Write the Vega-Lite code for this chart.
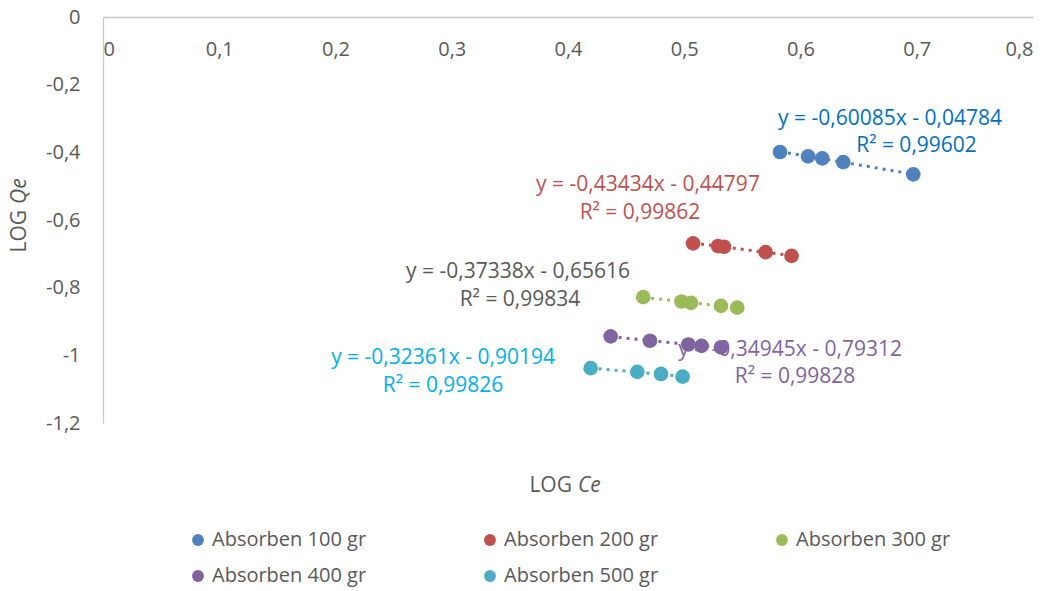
{
  "$schema": "https://vega.github.io/schema/vega-lite/v6.json",
  "width": 930,
  "height": 406,
  "autosize": "none",
  "padding": {"left": 103, "top": 17, "right": 20, "bottom": 168},
  "background": "white",
  "config": {
    "view": {"stroke": null},
    "font": "Open Sans",
    "axis": {"labelFont": "Open Sans", "labelColor": "#595959", "labelFontSize": 20, "domainColor": "#C8C8C8", "domainWidth": 1.3, "ticks": false, "tickSize": 0, "grid": false},
    "legend": {"labelFont": "Open Sans", "labelColor": "#595959", "labelFontSize": 20}
  },
  "resolve": {"scale": {"color": "independent"}, "legend": {"color": "independent"}},
  "datasets": {
    "points": [
      {"series": "Absorben 100 gr", "logCe": 0.5824, "logQe": -0.399},
      {"series": "Absorben 100 gr", "logCe": 0.6065, "logQe": -0.412},
      {"series": "Absorben 100 gr", "logCe": 0.6187, "logQe": -0.418},
      {"series": "Absorben 100 gr", "logCe": 0.6368, "logQe": -0.429},
      {"series": "Absorben 100 gr", "logCe": 0.6970, "logQe": -0.465},
      {"series": "Absorben 200 gr", "logCe": 0.5076, "logQe": -0.669},
      {"series": "Absorben 200 gr", "logCe": 0.5291, "logQe": -0.677},
      {"series": "Absorben 200 gr", "logCe": 0.5342, "logQe": -0.679},
      {"series": "Absorben 200 gr", "logCe": 0.5700, "logQe": -0.695},
      {"series": "Absorben 200 gr", "logCe": 0.5923, "logQe": -0.706},
      {"series": "Absorben 300 gr", "logCe": 0.4647, "logQe": -0.828},
      {"series": "Absorben 300 gr", "logCe": 0.4976, "logQe": -0.841},
      {"series": "Absorben 300 gr", "logCe": 0.5058, "logQe": -0.845},
      {"series": "Absorben 300 gr", "logCe": 0.5316, "logQe": -0.854},
      {"series": "Absorben 300 gr", "logCe": 0.5456, "logQe": -0.859},
      {"series": "Absorben 400 gr", "logCe": 0.4367, "logQe": -0.944},
      {"series": "Absorben 400 gr", "logCe": 0.4705, "logQe": -0.957},
      {"series": "Absorben 400 gr", "logCe": 0.5035, "logQe": -0.968},
      {"series": "Absorben 400 gr", "logCe": 0.5149, "logQe": -0.972},
      {"series": "Absorben 400 gr", "logCe": 0.5316, "logQe": -0.976},
      {"series": "Absorben 500 gr", "logCe": 0.4195, "logQe": -1.038},
      {"series": "Absorben 500 gr", "logCe": 0.4596, "logQe": -1.049},
      {"series": "Absorben 500 gr", "logCe": 0.4800, "logQe": -1.055},
      {"series": "Absorben 500 gr", "logCe": 0.4986, "logQe": -1.063}
    ],
    "labels": [
      {"series": "Absorben 100 gr", "logCe": 0.677, "logQe": -0.3015, "text": "y = -0,60085x - 0,04784"},
      {"series": "Absorben 100 gr", "logCe": 0.6998, "logQe": -0.3813, "text": "R² = 0,99602"},
      {"series": "Absorben 200 gr", "logCe": 0.4688, "logQe": -0.4966, "text": "y = -0,43434x - 0,44797"},
      {"series": "Absorben 200 gr", "logCe": 0.4619, "logQe": -0.5793, "text": "R² = 0,99862"},
      {"series": "Absorben 300 gr", "logCe": 0.3570, "logQe": -0.7537, "text": "y = -0,37338x - 0,65616"},
      {"series": "Absorben 300 gr", "logCe": 0.3587, "logQe": -0.8365, "text": "R² = 0,99834"},
      {"series": "Absorben 400 gr", "logCe": 0.5910, "logQe": -0.9843, "text": "y = -0,34945x - 0,79312"},
      {"series": "Absorben 400 gr", "logCe": 0.5953, "logQe": -1.0641, "text": "R² = 0,99828"},
      {"series": "Absorben 500 gr", "logCe": 0.2925, "logQe": -1.0079, "text": "y = -0,32361x - 0,90194"},
      {"series": "Absorben 500 gr", "logCe": 0.2925, "logQe": -1.0907, "text": "R² = 0,99826"}
    ]
  },
  "layer": [
    {
      "data": {"name": "labels"},
      "mark": {"type": "text", "align": "center", "baseline": "middle", "fontSize": 21, "font": "Open Sans"},
      "encoding": {
        "x": {"field": "logCe", "type": "quantitative", "scale": {"domain": [0, 0.8], "nice": false, "zero": false}},
        "y": {"field": "logQe", "type": "quantitative", "scale": {"domain": [-1.2, 0], "nice": false, "zero": false}},
        "text": {"field": "text"},
        "color": {"field": "series", "type": "nominal", "legend": null,
          "scale": {"domain": ["Absorben 100 gr", "Absorben 200 gr", "Absorben 300 gr", "Absorben 400 gr", "Absorben 500 gr"],
                    "range": ["#0070C0", "#C0504D", "#595959", "#8064A2", "#00B0F0"]}}
      }
    },
    {
      "data": {"name": "points"},
      "transform": [{"regression": "logQe", "on": "logCe", "groupby": ["series"], "method": "linear"}],
      "mark": {"type": "line", "strokeDash": [3, 5], "strokeWidth": 3},
      "encoding": {
        "x": {"field": "logCe", "type": "quantitative"},
        "y": {"field": "logQe", "type": "quantitative"},
        "color": {"field": "series", "type": "nominal", "legend": null,
          "scale": {"domain": ["Absorben 100 gr", "Absorben 200 gr", "Absorben 300 gr", "Absorben 400 gr", "Absorben 500 gr"],
                    "range": ["#4F81BD", "#C0504D", "#9BBB59", "#8064A2", "#4BACC6"]}}
      }
    },
    {
      "data": {"name": "points"},
      "mark": {"type": "point", "shape": "circle", "filled": true, "opacity": 1, "size": 215},
      "encoding": {
        "x": {"field": "logCe", "type": "quantitative",
          "axis": {"orient": "bottom", "offset": -406, "values": [0, 0.1, 0.2, 0.3, 0.4, 0.5, 0.6, 0.7, 0.8], "labelExpr": "replace(toString(datum.value), '.', ',')", "labelPadding": 22, "title": null}},
        "y": {"field": "logQe", "type": "quantitative",
          "axis": {"orient": "left", "values": [0, -0.2, -0.4, -0.6, -0.8, -1, -1.2], "labelExpr": "replace(toString(datum.value), '.', ',')", "labelPadding": 23, "title": null}},
        "color": {"field": "series", "type": "nominal",
          "scale": {"domain": ["Absorben 100 gr", "Absorben 200 gr", "Absorben 300 gr", "Absorben 400 gr", "Absorben 500 gr"],
                    "range": ["#4F81BD", "#C0504D", "#9BBB59", "#8064A2", "#4BACC6"]},
          "legend": {"orient": "none", "legendX": 85, "legendY": 513, "columns": 3, "direction": "horizontal", "title": null,
                     "symbolType": "circle", "symbolSize": 140, "symbolOpacity": 1, "labelOffset": 4, "columnPadding": 113, "rowPadding": 16, "labelLimit": 300}}
      }
    },
    {
      "data": {"values": [{}]},
      "mark": {"type": "text", "align": "right", "baseline": "middle", "fontSize": 21, "dx": -3, "fill": "#595959", "font": "Open Sans"},
      "encoding": {"x": {"datum": 0.406, "type": "quantitative"}, "y": {"datum": -1.386, "type": "quantitative"}, "text": {"value": "LOG"}}
    },
    {
      "data": {"values": [{}]},
      "mark": {"type": "text", "align": "left", "baseline": "middle", "fontSize": 21, "dx": 3, "fontStyle": "italic", "fill": "#595959", "font": "Open Sans"},
      "encoding": {"x": {"datum": 0.406, "type": "quantitative"}, "y": {"datum": -1.386, "type": "quantitative"}, "text": {"value": "Ce"}}
    },
    {
      "data": {"values": [{}]},
      "mark": {"type": "text", "align": "right", "baseline": "middle", "fontSize": 21, "dx": -3, "angle": 270, "fill": "#595959", "font": "Open Sans"},
      "encoding": {"x": {"datum": -0.0714, "type": "quantitative"}, "y": {"datum": -0.5616, "type": "quantitative"}, "text": {"value": "LOG"}}
    },
    {
      "data": {"values": [{}]},
      "mark": {"type": "text", "align": "left", "baseline": "middle", "fontSize": 21, "dx": 3, "angle": 270, "fontStyle": "italic", "fill": "#595959", "font": "Open Sans"},
      "encoding": {"x": {"datum": -0.0714, "type": "quantitative"}, "y": {"datum": -0.5616, "type": "quantitative"}, "text": {"value": "Qe"}}
    }
  ]
}
